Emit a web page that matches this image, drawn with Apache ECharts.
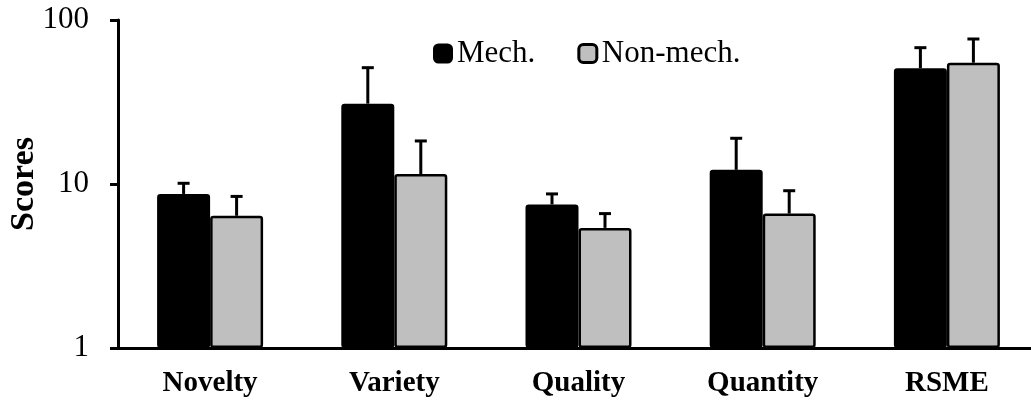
<!DOCTYPE html>
<html>
<head>
<meta charset="utf-8">
<script src="https://cdn.jsdelivr.net/npm/echarts@6/dist/echarts.min.js"></script>
<style>
  html, body { margin: 0; padding: 0; background: #fff; }
  #chart { width: 1031px; height: 402px; }
</style>
</head>
<body>
<div id="chart"></div>
<script>
// Scores per design metric, log scale
const categories = ['Novelty', 'Variety', 'Quality', 'Quantity', 'RSME'];
const mechMean = [8.7, 30.9, 7.5, 12.2, 50.8];
const mechErr = [1.4, 20.3, 1.2, 6.8, 17.0];
const nonMechMean = [6.4, 11.5, 5.4, 6.6, 54.9];
const nonMechErr = [2.0, 6.8, 1.2, 2.5, 21.7];
const yTicks = [1, 10, 100];

const FONT = "'Liberation Serif', 'Times New Roman', serif";
const BAR_W = 53;

function errorBar(offset) {
  return function (params, api) {
    const cat = api.value(0);
    const base = api.coord([cat, api.value(1)]);
    const top = api.coord([cat, api.value(1) + api.value(2)]);
    const x = base[0] + offset;
    const style = { stroke: '#000', lineWidth: 3 };
    return {
      type: 'group',
      children: [
        { type: 'line', shape: { x1: x, y1: base[1], x2: x, y2: top[1] }, style: style },
        { type: 'line', shape: { x1: x - 6, y1: top[1], x2: x + 6, y2: top[1] }, style: style }
      ]
    };
  };
}

const chart = echarts.init(document.getElementById('chart'), null, { renderer: 'canvas' });
chart.setOption({
  animation: false,
  backgroundColor: '#fff',
  textStyle: { fontFamily: FONT, color: '#000' },
  grid: { left: 118, right: -8, top: 20, bottom: 54, containLabel: false, outerBoundsMode: 'none' },
  legend: {
    left: 428,
    top: 33,
    icon: 'roundRect',
    itemWidth: 18,
    itemHeight: 18,
    itemGap: 42,
    textStyle: { fontFamily: FONT, fontSize: 31, color: '#000' },
    data: [
      { name: 'Mech.', itemStyle: { color: '#000', borderColor: '#000', borderWidth: 2 } },
      { name: 'Non-mech.', itemStyle: { color: '#bfbfbf', borderColor: '#000', borderWidth: 3 } }
    ]
  },
  xAxis: {
    type: 'category',
    data: categories,
    axisLine: { lineStyle: { color: '#000', width: 3 } },
    axisTick: { show: false },
    axisLabel: { fontFamily: FONT, fontSize: 29, fontWeight: 'bold', color: '#000', margin: 21 }
  },
  yAxis: {
    type: 'log',
    logBase: 10,
    min: yTicks[0],
    max: yTicks[yTicks.length - 1],
    name: 'Scores',
    nameLocation: 'middle',
    nameGap: 77,
    nameMoveOverlap: false,
    nameRotate: 90,
    nameTextStyle: { fontFamily: FONT, fontSize: 34, fontWeight: 'bold', color: '#000' },
    axisLine: { show: true, lineStyle: { color: '#000', width: 3 } },
    axisTick: { show: true, inside: false, length: 8, lineStyle: { color: '#000', width: 3 } },
    minorTick: { show: false },
    splitLine: { show: false },
    axisLabel: { fontFamily: FONT, fontSize: 31, color: '#000', margin: 29 }
  },
  series: [
    {
      name: 'Mech.',
      type: 'bar',
      data: mechMean,
      barWidth: BAR_W,
      barGap: 0,
      itemStyle: { color: '#000', borderColor: '#000', borderWidth: 2.5, borderRadius: 2 }
    },
    {
      name: 'Non-mech.',
      type: 'bar',
      data: nonMechMean,
      barWidth: BAR_W,
      barGap: 0,
      itemStyle: { color: '#bfbfbf', borderColor: '#000', borderWidth: 2.5, borderRadius: 2 }
    },
    {
      type: 'custom',
      renderItem: errorBar(-BAR_W / 2),
      data: mechMean.map((v, i) => [i, v, mechErr[i]]),
      z: 5,
      silent: true
    },
    {
      type: 'custom',
      renderItem: errorBar(BAR_W / 2),
      data: nonMechMean.map((v, i) => [i, v, nonMechErr[i]]),
      z: 5,
      silent: true
    }
  ]
});
</script>
</body>
</html>
